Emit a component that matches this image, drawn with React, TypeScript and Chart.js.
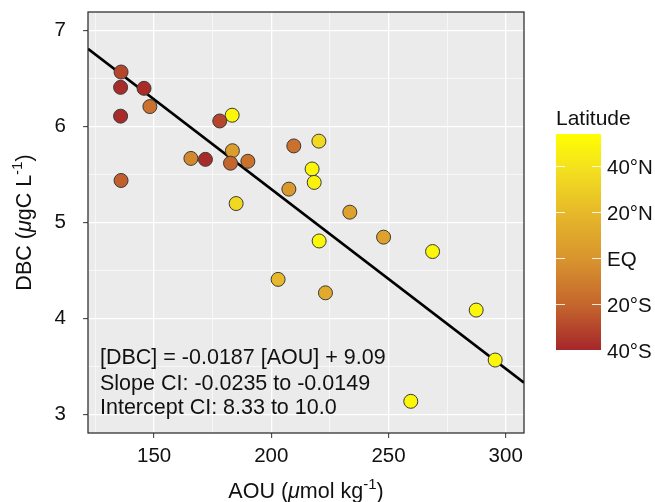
import React, { useEffect, useRef } from "react";
import { Chart, registerables } from "chart.js";

Chart.register(...registerables);

// ---- data ----
const aou = [135.9, 135.7, 145.7, 148.2, 135.7, 183.3, 178.0, 209.6, 220.3, 165.7, 171.9, 183.4, 182.6, 190.0, 217.4, 218.3, 135.9, 207.5, 185.0, 220.4, 233.5, 247.9, 268.8, 202.9, 223.1, 287.4, 295.5, 259.5];
const dbc = [6.57, 6.41, 6.40, 6.21, 6.11, 6.12, 6.06, 5.80, 5.85, 5.67, 5.66, 5.75, 5.62, 5.64, 5.56, 5.42, 5.44, 5.35, 5.20, 4.81, 5.11, 4.85, 4.70, 4.41, 4.27, 4.09, 3.57, 3.14];
const latitude = [-30, -38, -38, -15, -38, 50, -30, -15, 35, -5, -38, 5, -20, -15, 50, 48, -22, 3, 35, 50, 8, 8, 50, 20, 12, 50, 50, 50];

const fitX = [121.8, 307.8];
const fitY = [6.812, 3.334];

const xTicks = [150, 200, 250, 300];
const yTicks = [3, 4, 5, 6, 7];
const latTicks = [40, 20, 0, -20, -40];
const latLabels = ["40°N", "20°N", "EQ", "20°S", "40°S"];
const annotationLines = [
  "[DBC] = -0.0187 [AOU] + 9.09",
  "Slope CI: -0.0235 to -0.0149",
  "Intercept CI: 8.33 to 10.0",
];

const latMin = -39.4;
const latMax = 54.5;
const colorStops: [number, [number, number, number]][] = [
  [54.5, [255, 255, 0]],
  [40, [244, 226, 30]],
  [20, [230, 184, 42]],
  [0, [216, 148, 46]],
  [-20, [196, 101, 45]],
  [-39.4, [166, 38, 42]],
];

function latColor(lat: number): string {
  for (let i = 0; i < colorStops.length - 1; i++) {
    const [a, ca] = colorStops[i];
    const [b, cb] = colorStops[i + 1];
    if (lat <= a && lat >= b) {
      const t = (a - lat) / (a - b);
      const c = ca.map((v, k) => Math.round(v + (cb[k] - v) * t));
      return `rgb(${c[0]},${c[1]},${c[2]})`;
    }
  }
  const c = lat > latMax ? colorStops[0][1] : colorStops[colorStops.length - 1][1];
  return `rgb(${c[0]},${c[1]},${c[2]})`;
}

const FONT = "'Liberation Sans', Arial, Helvetica, sans-serif";

function drawParts(ctx: CanvasRenderingContext2D, parts: { t: string; it?: boolean; sup?: boolean }[], size: number) {
  const widths = parts.map((p) => {
    ctx.font = `${p.it ? "italic " : ""}${p.sup ? size * 0.7 : size}px ${FONT}`;
    return ctx.measureText(p.t).width;
  });
  const total = widths.reduce((a, b) => a + b, 0);
  let x = -total / 2;
  parts.forEach((p, i) => {
    ctx.font = `${p.it ? "italic " : ""}${p.sup ? size * 0.7 : size}px ${FONT}`;
    ctx.fillText(p.t, x, p.sup ? -size * 0.42 : 0);
    x += widths[i];
  });
}

const decorPlugin = {
  id: "decor",
  beforeDraw(chart: any) {
    const { ctx, chartArea } = chart;
    ctx.save();
    ctx.fillStyle = "#EBEBEB";
    ctx.fillRect(chartArea.left, chartArea.top, chartArea.right - chartArea.left, chartArea.bottom - chartArea.top);
    ctx.restore();
  },
  afterDraw(chart: any) {
    const { ctx, chartArea } = chart;
    const { left, right, top, bottom } = chartArea;
    ctx.save();
    ctx.strokeStyle = "#222";
    ctx.lineWidth = 1.2;
    ctx.strokeRect(left, top, right - left, bottom - top);

    ctx.fillStyle = "#111";
    ctx.font = `21.5px ${FONT}`;
    ctx.textAlign = "left";
    ctx.textBaseline = "alphabetic";
    const baseOffsets = [69, 43.5, 19];
    annotationLines.forEach((line, i) => {
      ctx.fillText(line, left + 12, bottom - baseOffsets[i]);
    });

    ctx.fillStyle = "#111";
    ctx.textAlign = "left";
    ctx.save();
    ctx.translate((left + right) / 2, 498);
    drawParts(ctx, [{ t: "AOU (" }, { t: "μ", it: true }, { t: "mol kg" }, { t: "-1", sup: true }, { t: ")" }], 21.5);
    ctx.restore();

    ctx.save();
    ctx.translate(31, (top + bottom) / 2);
    ctx.rotate(-Math.PI / 2);
    drawParts(ctx, [{ t: "DBC (" }, { t: "μ", it: true }, { t: "gC L" }, { t: "-1", sup: true }, { t: ")" }], 21.5);
    ctx.restore();

    const barL = 556, barR = 601, barT = 134, barB = 350;
    const latToY = (lat: number) => barT + ((latMax - lat) / (latMax - latMin)) * (barB - barT);
    const grad = ctx.createLinearGradient(0, barT, 0, barB);
    colorStops.forEach(([lat, c]) => {
      const s = Math.min(1, Math.max(0, (latMax - lat) / (latMax - latMin)));
      grad.addColorStop(s, `rgb(${c[0]},${c[1]},${c[2]})`);
    });
    ctx.fillStyle = grad;
    ctx.fillRect(barL, barT, barR - barL, barB - barT);
    ctx.strokeStyle = "rgba(255,255,255,0.85)";
    ctx.lineWidth = 1;
    ctx.textAlign = "left";
    ctx.textBaseline = "middle";
    ctx.font = `20.5px ${FONT}`;
    latTicks.forEach((lat, i) => {
      const y = Math.round(latToY(lat)) - 0.5;
      ctx.beginPath();
      ctx.moveTo(barL, y);
      ctx.lineTo(barL + 9, y);
      ctx.moveTo(barR - 9, y);
      ctx.lineTo(barR, y);
      ctx.stroke();
      ctx.fillStyle = "#111";
      ctx.fillText(latLabels[i], 607, latToY(lat) + 1);
    });
    ctx.textBaseline = "alphabetic";
    ctx.font = `21px ${FONT}`;
    ctx.fillText("Latitude", 556, 125);
    ctx.restore();
  },
};

const isMajor = (v: number, list: number[]) => list.some((t) => Math.abs(t - v) < 1e-6);

export default function App() {
  const ref = useRef<HTMLCanvasElement | null>(null);
  useEffect(() => {
    if (!ref.current) return;
    const points = aou.map((x, i) => ({ x, y: dbc[i] }));
    const chart = new Chart(ref.current, {
      type: "scatter",
      data: {
        datasets: [
          {
            type: "line",
            data: fitX.map((x, i) => ({ x, y: fitY[i] })),
            borderColor: "#000",
            borderWidth: 2.6,
            pointRadius: 0,
            fill: false,
            order: 2,
          } as any,
          {
            data: points,
            backgroundColor: latitude.map(latColor),
            borderColor: "#3a3a3a",
            borderWidth: 1,
            pointRadius: 7,
            pointHoverRadius: 7,
            order: 1,
          },
        ],
      },
      options: {
        animation: false,
        responsive: false,
        events: [],
        layout: { padding: { left: 0, top: 12, right: 131, bottom: 0 } },
        plugins: { legend: { display: false }, tooltip: { enabled: false } },
        scales: {
          x: {
            type: "linear",
            min: 121.8,
            max: 307.8,
            afterFit: (s: any) => { s.height = 69; s.paddingLeft = 0; s.paddingRight = 0; },
            afterBuildTicks: (s: any) => {
              s.ticks = [125, 150, 175, 200, 225, 250, 275, 300].map((v) => ({ value: v }));
            },
            ticks: {
              includeBounds: false,
              autoSkip: false,
              maxRotation: 0,
              padding: 6,
              color: "#111",
              font: { family: FONT, size: 20.5 },
              callback: (v: any) => (isMajor(Number(v), xTicks) ? String(v) : ""),
            },
            grid: {
              color: "#ffffff",
              lineWidth: (c: any) => (isMajor(c.tick?.value, xTicks) ? 1.3 : 0.6),
              tickColor: (c: any) => (isMajor(c.tick?.value, xTicks) ? "#333" : "rgba(0,0,0,0)"),
              tickLength: 5,
              tickWidth: 1,
            },
            border: { display: false },
          },
          y: {
            type: "linear",
            min: 2.81,
            max: 7.195,
            afterFit: (s: any) => { s.width = 88; s.paddingTop = 0; s.paddingBottom = 0; },
            afterBuildTicks: (s: any) => {
              s.ticks = [3, 3.5, 4, 4.5, 5, 5.5, 6, 6.5, 7].map((v) => ({ value: v }));
            },
            ticks: {
              includeBounds: false,
              autoSkip: false,
              padding: 17,
              color: "#111",
              font: { family: FONT, size: 20.5 },
              callback: (v: any) => (isMajor(Number(v), yTicks) ? String(v) : ""),
            },
            grid: {
              color: "#ffffff",
              lineWidth: (c: any) => (isMajor(c.tick?.value, yTicks) ? 1.3 : 0.6),
              tickColor: (c: any) => (isMajor(c.tick?.value, yTicks) ? "#333" : "rgba(0,0,0,0)"),
              tickLength: 5,
              tickWidth: 1,
            },
            border: { display: false },
          },
        },
      },
      plugins: [decorPlugin],
    });
    return () => chart.destroy();
  }, []);
  return (
    <div style={{ position: "fixed", left: 0, top: 0, width: 655, height: 502, background: "#fff" }}>
      <canvas ref={ref} width={655} height={502} style={{ width: 655, height: 502, display: "block" }} />
    </div>
  );
}
